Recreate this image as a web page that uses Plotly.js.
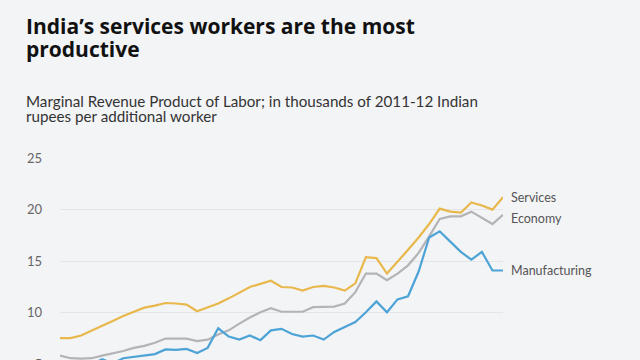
<!DOCTYPE html>
<html>
<head>
<meta charset="utf-8">
<script src="https://cdn.plot.ly/plotly-3.0.1.min.js"></script>
<style>
html,body{margin:0;padding:0;background:#f3f4f6;overflow:hidden;width:640px;height:360px;}
#chart{width:640px;height:450px;}
</style>
</head>
<body>
<div id="chart"></div>
<script>
// Years (x axis lies below the visible frame)
const years = [1971,1972,1973,1974,1975,1976,1977,1978,1979,1980,1981,1982,1983,1984,1985,1986,1987,1988,1989,1990,1991,1992,1993,1994,1995,1996,1997,1998,1999,2000,2001,2002,2003,2004,2005,2006,2007,2008,2009,2010,2011,2012,2013];

const services = [7.55,7.55,7.8,8.3,8.75,9.2,9.7,10.1,10.5,10.7,10.95,10.9,10.8,10.15,10.5,10.9,11.4,11.95,12.5,12.8,13.1,12.5,12.45,12.15,12.5,12.6,12.45,12.15,12.85,15.4,15.3,13.8,14.9,16.1,17.3,18.6,20.1,19.8,19.7,20.7,20.4,20.0,21.2];

const economy = [5.85,5.6,5.55,5.6,5.85,6.05,6.3,6.6,6.8,7.1,7.5,7.5,7.5,7.25,7.4,7.9,8.3,8.95,9.55,10.05,10.45,10.1,10.1,10.1,10.55,10.6,10.6,10.9,12.0,13.8,13.8,13.15,13.8,14.6,15.8,17.4,19.1,19.35,19.35,19.8,19.2,18.6,19.5];

const manufacturing = [5.2,5.0,4.9,5.0,5.5,5.1,5.6,5.75,5.9,6.0,6.45,6.4,6.5,6.1,6.6,8.5,7.7,7.4,7.8,7.35,8.3,8.45,7.95,7.7,7.8,7.4,8.15,8.6,9.1,10.05,11.1,10.05,11.3,11.6,14.0,17.3,17.9,16.9,15.9,15.15,15.9,14.1,14.1];

const seriesNames = ["Services","Economy","Manufacturing"];
const yTicks = [0,5,10,15,20,25];
const titleLines = ["India’s services workers are the most", "productive"];
const subtitleLines = ["Marginal Revenue Product of Labor; in thousands of 2011-12 Indian", "rupees per additional worker"];

const colors = {Services:"#e8b84c", Economy:"#b4b4b6", Manufacturing:"#4da3d6"};
const dataMap = {Services:services, Economy:economy, Manufacturing:manufacturing};
const labelShift = {Services:0, Economy:-4, Manufacturing:0};

const traces = seriesNames.map(n => ({
  x: years, y: dataMap[n], type:"scatter", mode:"lines", name:n,
  line:{color:colors[n], width:2.2}, hoverinfo:"skip"
}));

const annotations = seriesNames.map(n => ({
  x: years[years.length-1], y: dataMap[n][dataMap[n].length-1],
  xref:"x", yref:"y", text:n, showarrow:false, xanchor:"left", yanchor:"middle",
  xshift:6, yshift:labelShift[n],
  font:{family:"Lato, sans-serif", size:12.5, color:"#555"}
}));

// paper coordinates helpers (plot area: x 60..503, y 158..416.3 px)
const px2x = px => (px-60)/443;
const py2y = py => (416.3-py)/258.3;

const titleMid = [26, 49];
titleLines.forEach((t,i) => annotations.push({
  xref:"paper", yref:"paper", x:px2x(24), y:py2y(titleMid[i]),
  xanchor:"left", yanchor:"middle", showarrow:false, text:"<b>"+t+"</b>",
  font:{family:"'Open Sans', sans-serif", size:21, color:"#111"}
}));

const subMid = [100.5, 116];
subtitleLines.forEach((t,i) => annotations.push({
  xref:"paper", yref:"paper", x:px2x(24), y:py2y(subMid[i]),
  xanchor:"left", yanchor:"middle", showarrow:false, text:t,
  font:{family:"Lato, sans-serif", size:15.2, color:"#333"}
}));

const layout = {
  width:640, height:450,
  paper_bgcolor:"#f3f4f6", plot_bgcolor:"#f3f4f6",
  margin:{l:60, r:137, t:158, b:33.7},
  showlegend:false,
  xaxis:{range:[years[0], years[years.length-1]], showgrid:false, zeroline:false, showline:false, showticklabels:false, ticks:""},
  yaxis:{range:[0,25], tickvals:yTicks, ticktext:yTicks.map(String), showgrid:true, gridcolor:"#e3e5e8", gridwidth:1,
         zeroline:false, showline:false, ticks:"", ticklabelstandoff:17,
         tickfont:{family:"Lato, sans-serif", size:13, color:"#666"}},
  annotations:annotations
};

Plotly.newPlot("chart", traces, layout, {displayModeBar:false, staticPlot:true});
</script>
</body>
</html>
